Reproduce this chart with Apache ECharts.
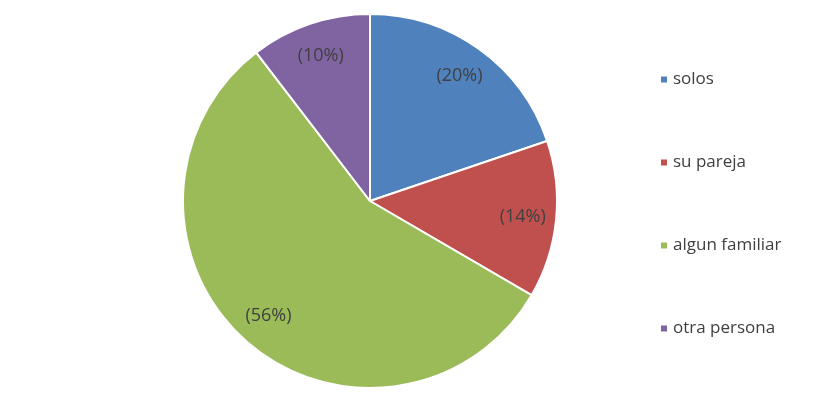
<!DOCTYPE html>
<html>
<head>
<meta charset="utf-8">
<script src="https://cdn.jsdelivr.net/npm/echarts@6/dist/echarts.min.js"></script>
<style>html,body{margin:0;padding:0;background:#fff}#c{width:827px;height:409px}</style>
</head>
<body>
<div id="c"></div>
<script>
const categories = ['solos', 'su pareja', 'algun familiar', 'otra persona'];
const values = [19.8, 13.6, 56.2, 10.4];
const colors = ['#4F81BD', '#C0504D', '#9BBB59', '#8064A2'];

const data = categories.map((n, i) => ({ name: n, value: values[i] }));
const chart = echarts.init(document.getElementById('c'), null, { renderer: 'canvas' });
const font = '"Open Sans", Lato, sans-serif';
chart.setOption({
  backgroundColor: '#fff',
  animation: false,
  color: colors,
  legend: {
    orient: 'vertical',
    left: 654,
    top: 66,
    itemWidth: 8,
    itemHeight: 8,
    itemGap: 66,
    icon: 'rect',
    data: categories,
    textStyle: { fontFamily: font, fontSize: 17, color: '#404040', lineHeight: 17 }
  },
  series: [
    {
      type: 'pie',
      center: [370, 201],
      radius: [0, 187],
      startAngle: 90,
      clockwise: true,
      data: data,
      itemStyle: { borderColor: '#fff', borderWidth: 2 },
      label: { show: false },
      labelLine: { show: false },
      silent: true
    },
    {
      type: 'pie',
      center: [370, 201],
      radius: [114, 187],
      startAngle: 90,
      clockwise: true,
      data: data,
      itemStyle: { color: 'rgba(0,0,0,0)' },
      legendHoverLink: false,
      silent: true,
      label: {
        show: true,
        position: 'inside',
        formatter: p => '(' + Math.round(p.value) + '%)',
        fontFamily: font,
        fontSize: 18,
        color: '#404040'
      },
      labelLine: { show: false }
    }
  ]
});
</script>
</body>
</html>
